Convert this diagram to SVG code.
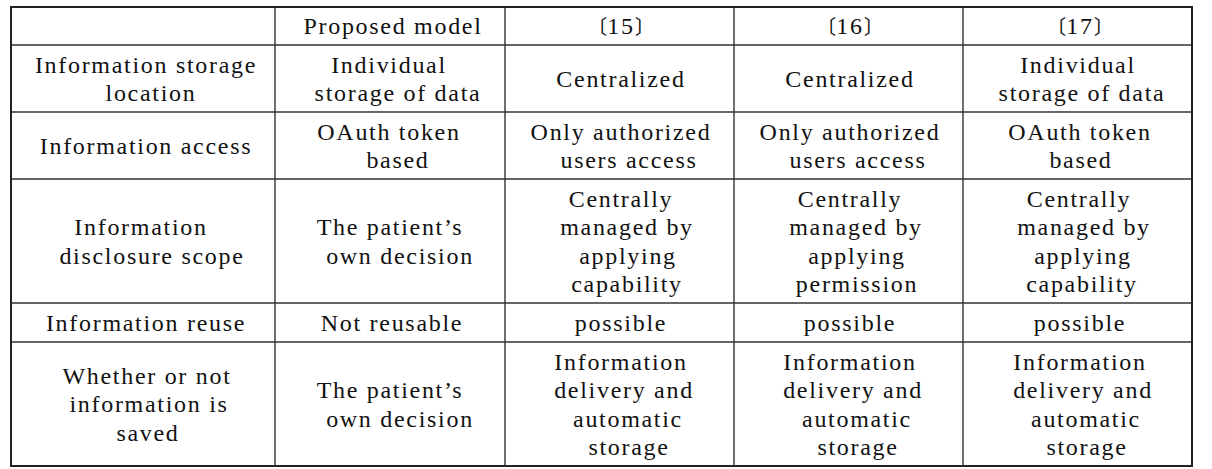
<svg xmlns="http://www.w3.org/2000/svg" width="1212" height="469" viewBox="0 0 1212 469">
<style>
.t{font-family:'Liberation Serif','Times New Roman',serif;font-size:24px;letter-spacing:1.7px;fill:#111;text-anchor:middle}
.g{stroke:#333;stroke-width:1.4;fill:none}
.o{stroke:#222;stroke-width:2;fill:none}
.b{font-family:'Noto Sans CJK JP',sans-serif;font-size:20px;letter-spacing:0}
</style>
<rect width="1212" height="469" fill="#fff"/>
<g id="grid">
<line class="g" x1="11" y1="45" x2="1192" y2="45"/>
<line class="g" x1="11" y1="112" x2="1192" y2="112"/>
<line class="g" x1="11" y1="179" x2="1192" y2="179"/>
<line class="g" x1="11" y1="303" x2="1192" y2="303"/>
<line class="g" x1="11" y1="342" x2="1192" y2="342"/>
<line class="g" x1="275" y1="7" x2="275" y2="466"/>
<line class="g" x1="505" y1="7" x2="505" y2="466"/>
<line class="g" x1="734" y1="7" x2="734" y2="466"/>
<line class="g" x1="963" y1="7" x2="963" y2="466"/>
<rect class="o" x="11" y="7" width="1181" height="459"/>
</g>
<g id="header">
<text class="t" x="393" y="34">Proposed model</text>
<text class="t" x="621" y="34"><tspan class="b">〔</tspan>15<tspan class="b">〕</tspan></text>
<text class="t" x="850" y="34"><tspan class="b">〔</tspan>16<tspan class="b">〕</tspan></text>
<text class="t" x="1080" y="34"><tspan class="b">〔</tspan>17<tspan class="b">〕</tspan></text>
</g>
<g id="row-storage">
<text class="t" x="146" y="73">Information storage</text>
<text class="t" x="151" y="101">location</text>
<text class="t" x="389" y="73">Individual</text>
<text class="t" x="398" y="101">storage of data</text>
<text class="t" x="621" y="87">Centralized</text>
<text class="t" x="850" y="87">Centralized</text>
<text class="t" x="1078" y="73">Individual</text>
<text class="t" x="1082" y="101">storage of data</text>
</g>
<g id="row-access">
<text class="t" x="146" y="154">Information access</text>
<text class="t" x="389" y="140">OAuth token</text>
<text class="t" x="398" y="168">based</text>
<text class="t" x="621" y="140">Only authorized</text>
<text class="t" x="629" y="168">users access</text>
<text class="t" x="850" y="140">Only authorized</text>
<text class="t" x="858" y="168">users access</text>
<text class="t" x="1080" y="140">OAuth token</text>
<text class="t" x="1081" y="168">based</text>
</g>
<g id="row-disclosure">
<text class="t" x="141" y="235">Information</text>
<text class="t" x="152" y="264">disclosure scope</text>
<text class="t" x="390" y="235">The patient’s</text>
<text class="t" x="400" y="264">own decision</text>
<text class="t" x="621" y="207">Centrally</text>
<text class="t" x="627" y="235">managed by</text>
<text class="t" x="628" y="264">applying</text>
<text class="t" x="627" y="292">capability</text>
<text class="t" x="850" y="207">Centrally</text>
<text class="t" x="856" y="235">managed by</text>
<text class="t" x="857" y="264">applying</text>
<text class="t" x="857" y="292">permission</text>
<text class="t" x="1079" y="207">Centrally</text>
<text class="t" x="1084" y="235">managed by</text>
<text class="t" x="1083" y="264">applying</text>
<text class="t" x="1082" y="292">capability</text>
</g>
<g id="row-reuse">
<text class="t" x="146" y="331">Information reuse</text>
<text class="t" x="392" y="331">Not reusable</text>
<text class="t" x="621" y="331">possible</text>
<text class="t" x="850" y="331">possible</text>
<text class="t" x="1080" y="331">possible</text>
</g>
<g id="row-saved">
<text class="t" x="147" y="384">Whether or not</text>
<text class="t" x="149" y="412">information is</text>
<text class="t" x="148" y="441">saved</text>
<text class="t" x="390" y="398">The patient’s</text>
<text class="t" x="400" y="427">own decision</text>
<text class="t" x="621" y="370">Information</text>
<text class="t" x="624" y="398">delivery and</text>
<text class="t" x="628" y="427">automatic</text>
<text class="t" x="629" y="455">storage</text>
<text class="t" x="850" y="370">Information</text>
<text class="t" x="853" y="398">delivery and</text>
<text class="t" x="857" y="427">automatic</text>
<text class="t" x="858" y="455">storage</text>
<text class="t" x="1080" y="370">Information</text>
<text class="t" x="1083" y="398">delivery and</text>
<text class="t" x="1086" y="427">automatic</text>
<text class="t" x="1087" y="455">storage</text>
</g>
</svg>
